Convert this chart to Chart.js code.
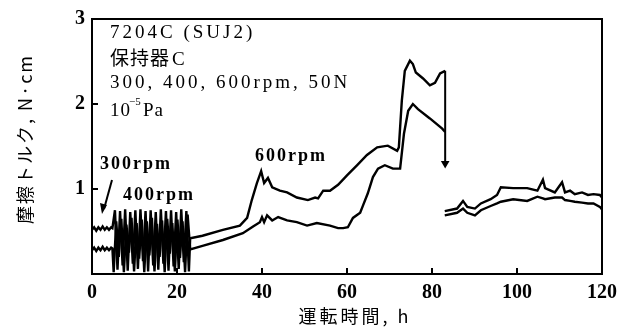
<!DOCTYPE html>
<html lang="ja">
<head>
<meta charset="utf-8">
<title>摩擦トルク</title>
<script src="https://cdn.jsdelivr.net/npm/chart.js@4/dist/chart.umd.min.js"></script>
<style>
  body { margin: 0; background: #fff; }
  canvas { display: block; }
</style>
</head>
<body>
<canvas id="torqueChart" width="631" height="336"></canvas>
<script>
// Upper and lower edge of the torque trace, 0 - 83 h (300 / 400 / 600 rpm)
const upperHours = [0, 0.5, 1, 1.5, 2, 2.5, 3, 3.5, 4, 4.5,
  4.8, 5.4, 6.0, 6.6, 7.2, 7.8, 8.4, 9.0, 9.6, 10.2, 10.8, 11.4, 12.0, 12.6, 13.2, 13.8,
  14.4, 15.0, 15.6, 16.2, 16.8, 17.4, 18.0, 18.6, 19.2, 19.8, 20.4, 21.0, 21.6, 22.2, 22.8, 23.1,
  26, 30.8, 34.8, 36.5, 37.6, 38.8, 39.8, 40.5, 41.4, 42.4, 44.2, 45.9, 48.2, 50.8, 52.5, 53.2,
  54.4, 56, 57.9, 60, 62.4, 64.7, 67.1, 69.6, 71.8, 72.2, 72.9, 73.6, 74.8, 75.5, 76.2, 77.9,
  79.5, 80.7, 81.9, 83.1];
const upperTorque = [0.52, 0.55, 0.51, 0.55, 0.52, 0.56, 0.52, 0.55, 0.52, 0.55,
  0.54, 0.75, 0.05, 0.74, 0.10, 0.76, 0.04, 0.73, 0.12, 0.75, 0.06, 0.76, 0.15, 0.74, 0.03, 0.75,
  0.10, 0.73, 0.05, 0.76, 0.12, 0.74, 0.04, 0.75, 0.09, 0.73, 0.06, 0.76, 0.14, 0.74, 0.03, 0.42,
  0.45, 0.52, 0.57, 0.66, 0.87, 1.07, 1.21, 1.07, 1.13, 1.02, 0.98, 0.96, 0.90, 0.87, 0.90, 0.89,
  0.98, 0.98, 1.05, 1.16, 1.28, 1.40, 1.49, 1.51, 1.45, 1.49, 2.04, 2.39, 2.51, 2.47, 2.37, 2.30,
  2.22, 2.25, 2.36, 2.39];

const lowerHours = [0, 0.5, 1, 1.5, 2, 2.5, 3, 3.5, 4, 4.5, 4.8,
  5.1, 5.7, 6.3, 6.9, 7.5, 8.1, 8.7, 9.3, 9.9, 10.5, 11.1, 11.7, 12.3, 12.9, 13.5, 14.1,
  14.7, 15.3, 15.9, 16.5, 17.1, 17.7, 18.3, 18.9, 19.5, 20.1, 20.7, 21.3, 21.9, 22.5, 23.1,
  26, 30.8, 35.5, 37.9, 39.5, 40, 40.5, 41.2, 42.4, 43.8, 45.9, 48.2, 50.6, 52.9, 56, 57.9,
  59.1, 60.2, 61.4, 63.1, 63.8, 64.9, 66.1, 67.3, 68.9, 70.8, 72.5, 73.4, 74.4, 75.5, 76.7,
  79.5, 82.4, 83.1];
const lowerTorque = [0.28, 0.31, 0.27, 0.31, 0.28, 0.32, 0.28, 0.31, 0.28, 0.31, 0.30,
  0.02, 0.62, 0.20, 0.65, 0.02, 0.58, 0.25, 0.66, 0.03, 0.60, 0.18, 0.64, 0.02, 0.62, 0.22, 0.66,
  0.03, 0.59, 0.20, 0.63, 0.02, 0.65, 0.24, 0.60, 0.03, 0.64, 0.19, 0.62, 0.02, 0.70, 0.29,
  0.33, 0.40, 0.48, 0.56, 0.61, 0.67, 0.61, 0.69, 0.63, 0.67, 0.63, 0.61, 0.57, 0.60, 0.57, 0.54,
  0.54, 0.55, 0.66, 0.72, 0.81, 0.95, 1.14, 1.24, 1.28, 1.24, 1.24, 1.65, 1.92, 2.00, 1.94,
  1.83, 1.71, 1.67];

// After the restart at 83 h
const restartHours = [83, 85.9, 87.3, 88.3, 90.1, 91.5, 93.8, 95.3, 96.2, 99.1, 102.4, 104.8,
  106.1, 106.6, 108.9, 110.6, 111.3, 112.5, 113.6, 115.3, 116.7, 118, 119.5, 120];
const restartUpper = [0.74, 0.77, 0.86, 0.79, 0.77, 0.83, 0.88, 0.93, 1.02, 1.01, 1.01, 0.98,
  1.11, 1.01, 0.96, 1.08, 0.96, 0.98, 0.94, 0.96, 0.93, 0.94, 0.93, 0.90];
const restartLower = [0.69, 0.72, 0.77, 0.72, 0.69, 0.75, 0.80, 0.83, 0.85, 0.88, 0.86, 0.91,
  0.89, 0.88, 0.90, 0.90, 0.87, 0.86, 0.85, 0.84, 0.83, 0.83, 0.79, 0.76];

// Drop at the stop (83 h)
const dropHours = [83.1, 83.1];
const dropTorque = [2.39, 1.30];

const xTicks = [0, 20, 40, 60, 80, 100, 120];
const yTicks = [1, 2, 3];

const serif = "'Liberation Serif', 'Noto Sans CJK JP', serif";
const cjk = "'Noto Sans CJK JP', sans-serif";

function points(xs, ys) {
  return xs.map((x, i) => ({ x: x, y: ys[i] }));
}

function trace(data) {
  return {
    data: data,
    borderColor: '#000',
    borderWidth: 2.4,
    pointRadius: 0,
    tension: 0
  };
}

function text(ctx, str, x, y, font, spacing) {
  ctx.font = font;
  ctx.letterSpacing = spacing + 'px';
  ctx.fillText(str, x, y);
}

// frame, inward ticks, axis titles and labels
const notes = {
  id: 'notes',
  afterDraw(chart) {
    const ctx = chart.ctx;
    const a = chart.chartArea;
    const xs = chart.scales.x;
    const ys = chart.scales.y;
    ctx.save();
    ctx.strokeStyle = '#000';
    ctx.fillStyle = '#000';
    ctx.lineWidth = 2;
    ctx.strokeRect(a.left, a.top, a.right - a.left, a.bottom - a.top);

    ctx.beginPath();
    xTicks.slice(1, -1).forEach(v => {
      const px = xs.getPixelForValue(v);
      ctx.moveTo(px, a.bottom);
      ctx.lineTo(px, a.bottom - 6);
    });
    yTicks.slice(0, -1).forEach(v => {
      const py = ys.getPixelForValue(v);
      ctx.moveTo(a.left, py);
      ctx.lineTo(a.left + 6, py);
    });
    ctx.stroke();

    ctx.textBaseline = 'alphabetic';
    ctx.textAlign = 'left';
    text(ctx, '7204C (SUJ2)', 110, 38, '19px ' + serif, 3);
    text(ctx, '保持器', 110, 65, '19px ' + cjk, 1);
    text(ctx, 'C', 172, 65, '19px ' + serif, 0);
    text(ctx, '300, 400, 600rpm, 50N', 110, 88, '19px ' + serif, 3);
    text(ctx, '10', 110, 116, '19px ' + serif, 1);
    text(ctx, '−5', 129, 105, '11px ' + serif, 0);
    text(ctx, 'Pa', 143, 116, '19px ' + serif, 1);

    text(ctx, '300rpm', 100, 169, 'bold 18px ' + serif, 2);
    text(ctx, '400rpm', 123, 200, 'bold 18px ' + serif, 2);
    text(ctx, '600rpm', 255, 161, 'bold 18px ' + serif, 2);

    // pointer to the 300 rpm trace
    ctx.beginPath();
    ctx.moveTo(112, 180);
    ctx.lineTo(104, 209);
    ctx.stroke();
    ctx.beginPath();
    ctx.moveTo(102, 214);
    ctx.lineTo(100, 203);
    ctx.lineTo(107, 205);
    ctx.closePath();
    ctx.fill();

    // axis titles
    ctx.textAlign = 'center';
    ctx.textBaseline = 'middle';
    text(ctx, '運転時間, h', 355, 316, '18px ' + cjk, 3);
    ctx.translate(25, 139);
    ctx.rotate(-Math.PI / 2);
    text(ctx, '摩擦トルク, N·cm', 0, 0, '18px ' + cjk, 2);
    ctx.restore();
  }
};

Chart.defaults.color = '#000';

new Chart(document.getElementById('torqueChart'), {
  type: 'line',
  data: {
    datasets: [
      trace(points(upperHours, upperTorque)),
      trace(points(lowerHours, lowerTorque)),
      trace(points(restartHours, restartUpper)),
      trace(points(restartHours, restartLower)),
      Object.assign(trace(points(dropHours, dropTorque)), {
        borderWidth: 2,
        pointRadius: [0, 5],
        pointStyle: 'triangle',
        rotation: 180,
        pointBackgroundColor: '#000',
        pointBorderWidth: 0
      })
    ]
  },
  options: {
    responsive: false,
    animation: false,
    layout: { padding: { top: 18, right: 29, left: 0, bottom: 0 } },
    plugins: { legend: { display: false }, tooltip: { enabled: false } },
    scales: {
      x: {
        type: 'linear',
        min: 0,
        max: 120,
        afterBuildTicks: s => { s.ticks = xTicks.map(v => ({ value: v })); },
        ticks: { padding: 7, font: { family: serif, size: 20, weight: 'bold' } },
        grid: { display: false, drawTicks: false },
        border: { color: '#000', width: 2 },
        afterFit: s => { s.height = 62; }
      },
      y: {
        min: 0,
        max: 3,
        afterBuildTicks: s => { s.ticks = yTicks.map(v => ({ value: v })); },
        ticks: { padding: 7, font: { family: serif, size: 20, weight: 'bold' } },
        grid: { display: false, drawTicks: false },
        border: { color: '#000', width: 2 },
        afterFit: s => { s.width = 92; }
      }
    }
  },
  plugins: [notes]
});
</script>
</body>
</html>
